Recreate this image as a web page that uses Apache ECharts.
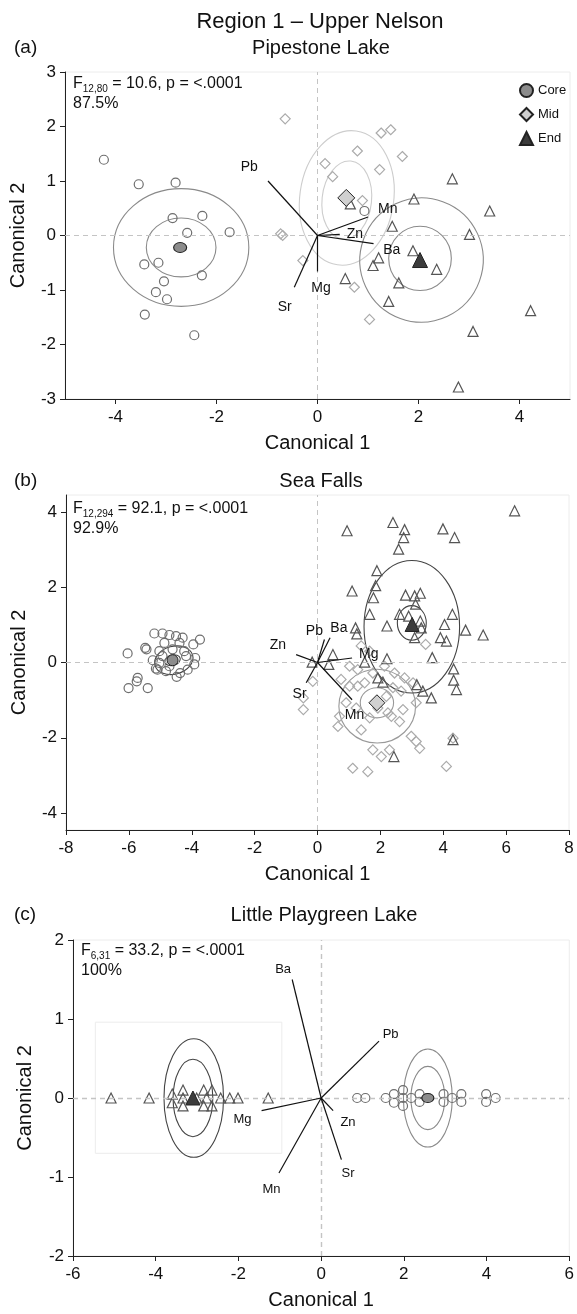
<!DOCTYPE html>
<html><head><meta charset="utf-8">
<script src="https://cdn.jsdelivr.net/npm/echarts@6/dist/echarts.min.js"></script>
<style>html,body{margin:0;padding:0;background:#fff}#c{width:577px;height:1314px}</style>
</head><body><div id="c"></div><script>
const FF = '"Liberation Sans", Arial, Helvetica, sans-serif';

// ---------- Panel (a) Pipestone Lake ----------
const aCore = [[-4.23,1.39],[-3.54,0.94],[-2.81,0.97],[-2.87,0.32],[-2.28,0.36],[-2.58,0.05],[-1.74,0.06],[-3.43,-0.53],[-3.15,-0.50],[-2.29,-0.73],[-3.04,-0.84],[-3.20,-1.04],[-2.98,-1.17],[-3.42,-1.45],[-2.44,-1.83],[0.93,0.45]];
const aMid = [[-0.64,2.14],[-0.73,0.03],[-0.69,0.0],[-0.29,-0.46],[1.26,1.88],[1.45,1.94],[0.79,1.55],[1.68,1.45],[0.15,1.32],[0.30,1.08],[1.23,1.21],[0.89,0.64],[0.73,-0.95],[1.03,-1.54]];
const aEnd = [[2.67,1.04],[1.91,0.67],[3.41,0.45],[1.48,0.17],[3.01,0.02],[1.89,-0.28],[2.36,-0.62],[1.21,-0.41],[1.10,-0.55],[0.55,-0.79],[1.61,-0.87],[1.41,-1.21],[4.22,-1.38],[3.08,-1.76],[0.65,0.58],[2.79,-2.78]];
const aCoreMean = [[-2.72,-0.22]];
const aMidMean = [[0.57,0.69]];
const aEndMean = [[2.03,-0.45]];
// ellipses: [centre x, centre y, radius x, radius y, rotation deg]
const aCoreEll = [[-2.70,-0.22,0.69,0.54,0],[-2.70,-0.22,1.34,1.08,0]];
const aMidEll = [[0.58,0.65,0.49,0.72,-6],[0.58,0.69,0.93,1.24,-8]];
const aEndEll = [[2.03,-0.42,0.62,0.59,0],[2.06,-0.45,1.22,1.14,-20]];
const aVecNames = ['Pb','Sr','Mg','Mn','Zn','Ba'];
const aVecEnds = [[-0.98,1.00],[-0.46,-0.95],[0,-0.66],[1.00,0.34],[0.44,0.02],[1.11,-0.15]];
const aVecLabels = [[-1.35,1.25],[-0.65,-1.32],[0.07,-0.96],[1.39,0.49],[0.74,0.02],[1.47,-0.26]];

// ---------- Panel (b) Sea Falls ----------
const bCore = [[-6.04,0.24],[-5.48,0.39],[-5.44,0.35],[-5.19,0.77],[-4.93,0.77],[-4.71,0.73],[-4.50,0.70],[-4.29,0.66],[-3.95,0.48],[-3.74,0.61],[-5.24,0.06],[-5.03,0.30],[-5.09,-0.19],[-4.82,-0.23],[-4.48,-0.38],[-4.37,-0.28],[-4.13,-0.19],[-3.89,0.12],[-3.92,-0.05],[-4.18,0.17],[-5.72,-0.41],[-5.75,-0.50],[-6.01,-0.68],[-5.40,-0.68],[-5.03,-0.01],[-4.61,0.35],[-4.24,0.30],[-4.71,-0.10],[-4.87,0.52],[-4.39,0.52],[-4.93,0.17],[-5.14,-0.16]];
const bMid = [[-0.45,-0.94],[-0.45,-1.25],[-0.15,-0.50],[1.39,0.44],[1.66,0.30],[1.02,-0.10],[1.28,-0.19],[0.75,-0.45],[1.02,-0.63],[1.28,-0.63],[1.50,-0.54],[1.76,-0.28],[2.45,-0.28],[2.77,-0.41],[3.04,-0.54],[2.66,-0.76],[2.19,-0.90],[3.14,-1.07],[2.72,-1.25],[2.24,-1.34],[0.70,-1.43],[0.65,-1.70],[1.39,-1.79],[1.66,-1.47],[2.61,-1.57],[2.35,-1.43],[2.98,-1.96],[3.14,-2.10],[3.25,-2.28],[1.76,-2.32],[2.03,-2.50],[2.29,-2.32],[1.12,-2.81],[1.60,-2.90],[4.10,-2.76],[4.31,-2.01],[3.44,0.48],[2.13,-0.10],[2.40,-0.67],[1.92,-1.21],[1.23,-1.21],[0.91,-1.07]];
const bEnd = [[6.27,4.03],[0.94,3.50],[2.40,3.72],[2.77,3.53],[2.74,3.32],[2.58,3.01],[3.99,3.55],[4.36,3.32],[1.89,2.44],[1.85,2.04],[1.10,1.90],[1.78,1.72],[1.66,1.28],[1.21,0.92],[1.25,0.76],[2.21,0.97],[2.80,1.79],[3.09,1.77],[3.27,1.84],[3.12,1.55],[2.61,1.28],[2.90,1.23],[3.27,1.10],[3.30,0.92],[3.09,0.66],[4.29,1.28],[4.04,1.01],[4.71,0.86],[5.27,0.73],[3.91,0.66],[4.10,0.57],[3.65,0.13],[2.21,0.10],[0.49,0.21],[0.36,-0.05],[-0.17,0.01],[1.50,0.01],[4.33,-0.17],[4.33,-0.47],[4.42,-0.72],[3.16,-0.59],[3.35,-0.76],[3.62,-0.94],[2.08,-0.52],[1.92,-0.41],[4.31,-2.05],[2.43,-2.50]];
const bCoreMean = [[-4.61,0.06]];
const bMidMean = [[1.89,-1.07]];
const bEndMean = [[3.01,1.01]];
const bCoreEll = [[-4.61,0.06,0.25,0.14,15],[-4.57,0.06,0.62,0.37,15]];
const bMidEll = [[1.89,-1.07,0.53,0.40,0],[1.90,-1.16,1.22,0.98,0]];
const bEndEll = [[3.00,1.05,0.46,0.46,0],[3.00,0.95,1.52,1.76,0]];
const bVecNames = ['Pb','Ba','Mg','Mn','Zn','Sr'];
const bVecEnds = [[0.22,0.61],[0.40,0.66],[1.10,0.12],[1.10,-0.99],[-0.68,0.21],[-0.36,-0.54]];
const bVecLabels = [[-0.10,0.82],[0.68,0.91],[1.63,0.21],[1.18,-1.41],[-1.26,0.45],[-0.57,-0.85]];

// ---------- Panel (c) Little Playgreen Lake ----------
const cEnd = [[-5.08,0],[-4.16,0],[-3.60,0.05],[-3.60,-0.06],[-3.34,0.10],[-3.34,0],[-3.34,-0.10],[-2.84,0.10],[-2.84,-0.10],[-2.64,0.10],[-2.64,-0.10],[-2.77,0],[-2.43,0],[-2.21,0],[-2.01,0],[-1.28,0],[-3.01,0]];
const cCore = [[0.87,0],[1.07,0],[1.56,0],[1.76,0.05],[1.76,-0.06],[1.98,0.10],[1.98,0],[1.98,-0.10],[2.18,0],[2.38,0.05],[2.38,-0.05],[2.96,0.05],[2.96,-0.05],[3.17,0],[3.39,0.05],[3.39,-0.05],[3.99,0.05],[3.99,-0.05],[4.22,0]];
const cEndMean = [[-3.10,0]];
const cCoreMean = [[2.58,0]];
const cEndEll = [[-3.10,0,0.48,0.49,0],[-3.08,0,0.72,0.75,0]];
const cCoreEll = [[2.58,0,0.41,0.40,0],[2.58,0,0.59,0.62,0]];
const cBox = [[-5.46,0.96],[-0.95,-0.70]];
const cVecNames = ['Ba','Pb','Zn','Sr','Mg','Mn'];
const cVecEnds = [[-0.70,1.50],[1.40,0.72],[0.29,-0.16],[0.49,-0.78],[-1.44,-0.16],[-1.02,-0.95]];
const cVecLabels = [[-0.92,1.63],[1.68,0.80],[0.65,-0.31],[0.65,-0.95],[-1.90,-0.27],[-1.20,-1.16]];

// ---------- builders ----------
const CORE_C = '#6e6e6e', MID_C = '#ababab', END_C = '#555555';

function xAx(gi, min, max, opts) {
  return Object.assign({gridIndex: gi, type: 'value', min: min, max: max,
    name: 'Canonical 1', nameLocation: 'middle', nameGap: 34,
    nameTextStyle: {fontSize: 20, color: '#111', fontFamily: FF},
    axisLine: {onZero: false, lineStyle: {color: '#222', width: 1}},
    axisTick: {show: true, inside: false, length: 5, lineStyle: {color: '#222'}},
    axisLabel: {fontSize: 17, color: '#111', margin: 10, fontFamily: FF},
    splitLine: {show: false}}, opts || {});
}
function yAx(gi, min, max, opts) {
  return Object.assign({gridIndex: gi, type: 'value', min: min, max: max,
    name: 'Canonical 2', nameLocation: 'middle', nameGap: 37, nameRotate: 90,
    nameTextStyle: {fontSize: 20, color: '#111', fontFamily: FF},
    axisLine: {onZero: false, lineStyle: {color: '#222', width: 1}},
    axisTick: {show: true, inside: false, length: 5, lineStyle: {color: '#222'}},
    axisLabel: {fontSize: 17, color: '#111', margin: 9, fontFamily: FF},
    splitLine: {show: false}}, opts || {});
}
function pts(gi, data, symbol, size, stroke, name) {
  return {type: 'scatter', name: name, xAxisIndex: gi, yAxisIndex: gi, data: data,
    symbol: symbol, symbolSize: size, silent: true, z: 3,
    itemStyle: {color: 'rgba(255,255,255,0)', borderColor: stroke, borderWidth: 1.2, opacity: 1},
    emphasis: {disabled: true}};
}
function mean(gi, data, symbol, size, fill, name) {
  return {type: 'scatter', name: name, xAxisIndex: gi, yAxisIndex: gi, data: data,
    symbol: symbol, symbolSize: size, silent: true, z: 5,
    itemStyle: {color: fill, borderColor: '#222', borderWidth: 1, opacity: 1},
    emphasis: {disabled: true}};
}
function ells(gi, data, color) {
  return {type: 'custom', xAxisIndex: gi, yAxisIndex: gi, data: data, silent: true, z: 2,
    renderItem: function (params, api) {
      const c = api.coord([api.value(0), api.value(1)]);
      const s = api.size([api.value(2), api.value(3)]);
      return {type: 'ellipse', shape: {cx: c[0], cy: c[1], rx: s[0], ry: s[1]},
        rotation: api.value(4) * Math.PI / 180, originX: c[0], originY: c[1],
        style: {fill: 'none', stroke: color, lineWidth: 1.1}};
    }};
}
function vecs(gi, names, ends, labels, fs) {
  const data = ends.map(function (e, i) { return [e[0], e[1], labels[i][0], labels[i][1]]; });
  return {type: 'custom', xAxisIndex: gi, yAxisIndex: gi, data: data, silent: true, z: 6,
    renderItem: function (params, api) {
      const o = api.coord([0, 0]);
      const e = api.coord([api.value(0), api.value(1)]);
      const l = api.coord([api.value(2), api.value(3)]);
      return {type: 'group', children: [
        {type: 'line', shape: {x1: o[0], y1: o[1], x2: e[0], y2: e[1]}, style: {stroke: '#111', lineWidth: 1.2}},
        {type: 'text', x: l[0], y: l[1], style: {text: names[params.dataIndex], fill: '#111',
          font: fs + 'px ' + FF, align: 'center', verticalAlign: 'middle', textAlign: 'center', textVerticalAlign: 'middle'}}
      ]};
    }};
}
function zeroLines(gi, extra, w) {
  const s = {type: 'scatter', xAxisIndex: gi, yAxisIndex: gi, data: [], silent: true, z: 1,
    markLine: {silent: true, symbol: 'none', label: {show: false}, animation: false,
      lineStyle: {type: [5, 4], color: '#c4c4c4', width: w || 1},
      data: [{xAxis: 0}, {yAxis: 0}]}};
  if (extra) s.markArea = extra;
  return s;
}
function txt(x, y, text, size, align) {
  return {type: 'text', x: x, y: y, silent: true, style: {text: text, fill: '#111', font: size + 'px ' + FF,
    align: align || 'left', textAlign: align || 'left', verticalAlign: 'middle', textVerticalAlign: 'middle'}};
}
function stat(x, y, sub, rest, pct) {
  return {type: 'text', x: x, y: y, silent: true, style: {
    text: '{m|F}{s|' + sub + '}{m| ' + rest + '}\n{m|' + pct + '}',
    fill: '#111', verticalAlign: 'top', textVerticalAlign: 'top',
    rich: {m: {fontSize: 16, fontFamily: FF, fill: '#111', color: '#111', lineHeight: 20},
           s: {fontSize: 10, fontFamily: FF, fill: '#111', color: '#111', lineHeight: 12, verticalAlign: 'bottom'}}}};
}

const option = {
  animation: false,
  backgroundColor: '#fff',
  grid: [
    {left: 65, top: 72, width: 505, height: 327, show: true, borderColor: '#ececec', borderWidth: 1},
    {left: 66, top: 495, width: 503, height: 335, show: true, borderColor: '#ececec', borderWidth: 1},
    {left: 73, top: 940, width: 497, height: 316, show: true, borderColor: '#ececec', borderWidth: 1}
  ],
  xAxis: [
    xAx(0, -5, 5, {axisTick: {show: true, length: 5, customValues: [-4, -2, 0, 2, 4], lineStyle: {color: '#222'}},
                   axisLabel: {fontSize: 17, color: '#111', margin: 10, fontFamily: FF, customValues: [-4, -2, 0, 2, 4]}}),
    xAx(1, -8, 8, {interval: 2}),
    xAx(2, -6, 6, {interval: 2})
  ],
  yAxis: [
    yAx(0, -3, 3, {interval: 1}),
    yAx(1, -4.45, 4.45, {axisTick: {show: true, length: 5, customValues: [-4, -2, 0, 2, 4], lineStyle: {color: '#222'}},
                         axisLabel: {fontSize: 17, color: '#111', margin: 9, fontFamily: FF, customValues: [-4, -2, 0, 2, 4]}}),
    yAx(2, -2, 2, {interval: 1, nameGap: 38})
  ],
  legend: {left: 514, top: 78, orient: 'vertical', itemWidth: 13, itemHeight: 13, itemGap: 9,
    selectedMode: false, textStyle: {fontSize: 13, color: '#111', fontFamily: FF},
    data: [{name: 'Core', icon: 'circle'}, {name: 'Mid', icon: 'diamond'}, {name: 'End', icon: 'triangle'}]},
  graphic: [
    txt(320, 22, 'Region 1 \u2013 Upper Nelson', 22, 'center'),
    txt(14, 48, '(a)', 19),
    txt(321, 48, 'Pipestone Lake', 20, 'center'),
    txt(14, 481, '(b)', 19),
    txt(321, 481, 'Sea Falls', 20, 'center'),
    txt(14, 915, '(c)', 19),
    txt(324, 915, 'Little Playgreen Lake', 20, 'center'),
    stat(73, 74, '12,80', '= 10.6, p = <.0001', '87.5%'),
    stat(73, 499, '12,294', '= 92.1, p = <.0001', '92.9%'),
    stat(81, 941, '6,31', '= 33.2, p = <.0001', '100%')
  ],
  series: [
    // panel a
    zeroLines(0),
    ells(0, aCoreEll, '#8a8a8a'), ells(0, aMidEll, '#cdcdcd'), ells(0, aEndEll, '#8a8a8a'),
    pts(0, aMid, 'diamond', 10, MID_C, 'aMid'),
    pts(0, aCore, 'circle', 9, CORE_C, 'aCore'),
    pts(0, aEnd, 'triangle', 10, END_C, 'aEnd'),
    mean(0, aCoreMean, 'circle', [13, 10], '#8c8c8c', 'Core'),
    mean(0, aMidMean, 'diamond', 17, '#d0d0d0', 'Mid'),
    mean(0, aEndMean, 'triangle', 15, '#3c3c3c', 'End'),
    vecs(0, aVecNames, aVecEnds, aVecLabels, 14),
    // panel b
    zeroLines(1),
    ells(1, bCoreEll, '#444'), ells(1, bMidEll, '#999'), ells(1, bEndEll, '#444'),
    pts(1, bMid, 'diamond', 10, MID_C, 'bMid'),
    pts(1, bCore, 'circle', 9, CORE_C, 'bCore'),
    pts(1, bEnd, 'triangle', 10, END_C, 'bEnd'),
    mean(1, bCoreMean, 'circle', 11, '#8c8c8c', 'Core b'),
    mean(1, bMidMean, 'diamond', 16, '#d0d0d0', 'Mid b'),
    mean(1, bEndMean, 'triangle', 14, '#3c3c3c', 'End b'),
    vecs(1, bVecNames, bVecEnds, bVecLabels, 14),
    // panel c
    zeroLines(2, {silent: true, itemStyle: {color: 'rgba(0,0,0,0)', borderColor: '#ececec', borderWidth: 1},
      data: [[{coord: cBox[0]}, {coord: cBox[1]}]]}, 1.4),
    ells(2, cEndEll, '#444'), ells(2, cCoreEll, '#8a8a8a'),
    pts(2, cCore, 'circle', 9, CORE_C, 'cCore'),
    pts(2, cEnd, 'triangle', 10, END_C, 'cEnd'),
    mean(2, cCoreMean, 'circle', [12, 9], '#8c8c8c', 'Core c'),
    mean(2, cEndMean, 'triangle', 14, '#3c3c3c', 'End c'),
    vecs(2, cVecNames, cVecEnds, cVecLabels, 13)
  ]
};
const chart = echarts.init(document.getElementById('c'), null, {renderer: 'canvas'});
chart.setOption(option);
</script></body></html>
